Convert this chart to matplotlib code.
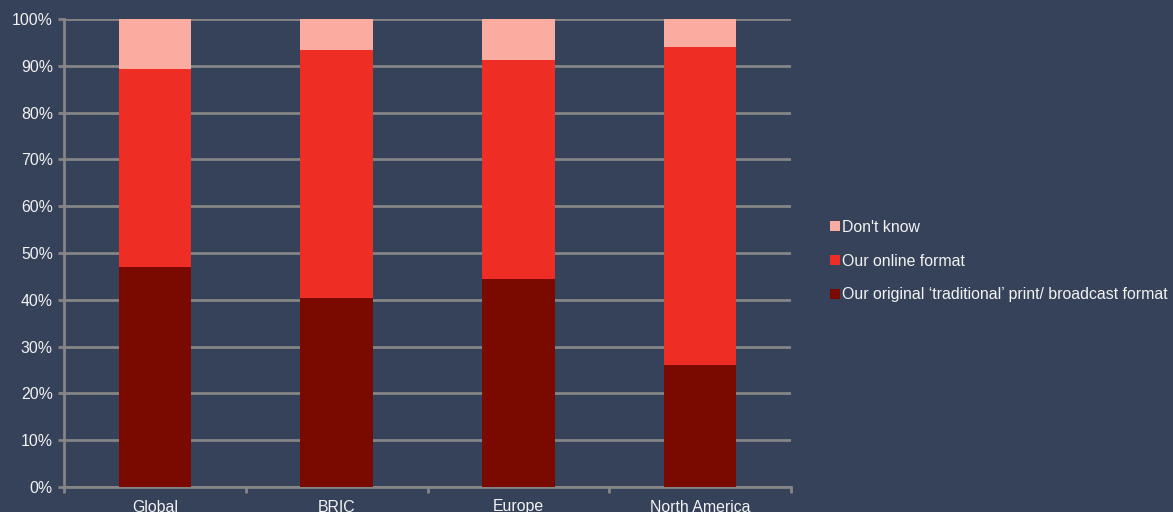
import matplotlib
matplotlib.use("Agg")
import matplotlib.pyplot as plt
from matplotlib.patches import Patch
from matplotlib.ticker import FixedLocator, PercentFormatter
import numpy as np

plt.rcParams['font.family'] = ['Liberation Sans', 'DejaVu Sans']

# datos (porcentaje de respuestas)
regiones = ["Global", "BRIC", "Europe", "North America"]
formato_original = [47.0, 40.4, 44.4, 26.1]
formato_online = [42.3, 53.0, 46.8, 67.9]
no_sabe = [10.7, 6.6, 8.8, 6.0]

etiquetas = ["Our original \u2018traditional\u2019 print/ broadcast format",
             "Our online format",
             "Don't know"]
colores = ["#7A0A00", "#EE2D24", "#F9AC9F"]

fondo = "#36425A"
gris = "#858585"
texto = "#F2F2F2"
tam = 11.4

fig = plt.figure(figsize=(11.73, 5.12), dpi=100, facecolor=fondo)
ax = fig.add_axes([64 / 1173, 25 / 512, 727 / 1173, 468 / 512])
ax.set_facecolor(fondo)

x = np.arange(len(regiones))
base = np.zeros(len(regiones))
for serie, color, nombre in zip([formato_original, formato_online, no_sabe], colores, etiquetas):
    ax.bar(x, serie, bottom=base, width=0.4, color=color, label=nombre, zorder=3)
    base = base + np.array(serie)

ax.set_xlim(-0.5, len(regiones) - 0.5)
ax.set_ylim(0, 100)
ax.set_yticks(np.arange(0, 101, 10))
ax.yaxis.set_major_formatter(PercentFormatter(decimals=0))
ax.grid(axis='y', color=gris, linewidth=2, zorder=1)
ax.set_axisbelow(True)

ax.set_xticks(x)
ax.set_xticklabels(regiones)
ax.xaxis.set_minor_locator(FixedLocator(np.arange(-0.5, len(regiones), 1.0)))
ax.tick_params(axis='x', which='major', length=0, pad=9, labelsize=tam, labelcolor=texto)
ax.tick_params(axis='x', which='minor', length=4, width=2, color=gris)
ax.tick_params(axis='y', length=4, width=2, color=gris, labelsize=tam, labelcolor=texto, pad=4)

for lado in ['top', 'right']:
    ax.spines[lado].set_visible(False)
for lado in ['left', 'bottom']:
    ax.spines[lado].set_color(gris)
    ax.spines[lado].set_linewidth(2)

# leyenda en orden inverso (de arriba hacia abajo)
manijas = [Patch(facecolor=c) for c in colores][::-1]
leg = fig.legend(manijas, etiquetas[::-1], loc='center left',
                 bbox_to_anchor=(830 / 1173, 1 - 261 / 512), frameon=False,
                 handlelength=0.6, handleheight=0.6, handletextpad=0.15,
                 labelspacing=1.2, borderpad=0, borderaxespad=0, fontsize=tam)
for t in leg.get_texts():
    t.set_color(texto)

fig.savefig("out.png", dpi=100, facecolor=fondo)
